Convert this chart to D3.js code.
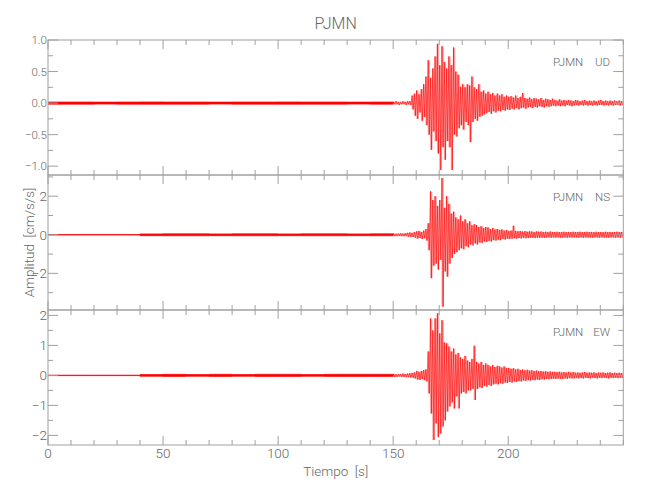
<!DOCTYPE html>
<html><head><meta charset="utf-8">
<script src="https://cdn.jsdelivr.net/npm/d3@7"></script>
<style>
body{margin:0;background:#fff}
text{font-family:Roboto,"Liberation Sans Narrow","DejaVu Sans Condensed",sans-serif;font-weight:300;fill:#666;white-space:pre}
</style>
</head><body>
<svg id="c" width="650" height="500"></svg>
<script>
// ---------------- data ----------------
const station = "PJMN";
const components = ["UD", "NS", "EW"];
const xTickValues = [0, 50, 100, 150, 200];
const xTickLabels = ["0", "50", "100", "150", "200"];
const xTitle = "Tiempo  [s]";
const yTitle = "Amplitud  [cm/s/s]";
const xDomain = [0, 250];
const yDomainUD = [-1.14, 1.0];
const yDomainNS = [-3.9, 3.1];
const yDomainEW = [-2.32, 2.18];
const yTicksUD = [-1, -0.5, 0, 0.5, 1];
const yTickLabelsUD = ["\u22121.0", "\u22120.5", "0.0", "0.5", "1.0"];
const yTicksNS = [-2, 0, 2];
const yTickLabelsNS = ["\u22122", "0", "2"];
const yTicksEW = [-2, -1, 0, 1, 2];
const yTickLabelsEW = ["\u22122", "\u22121", "0", "1", "2"];
const yMinorStep = [0.25, 1, 0.5];

// pre-event noise level (half-width) per 10 s segment, 0..150 s
const quietStarts = [0,10,20,30,40,50,60,70,80,90,100,110,120,130,140];
const quietUD = [0.017,0.017,0.016,0.017,0.018,0.017,0.017,0.016,0.017,0.017,0.018,0.017,0.017,0.016,0.017];
const quietNS = [0.012,0.012,0.012,0.012,0.045,0.05,0.05,0.045,0.05,0.05,0.045,0.05,0.05,0.045,0.05];
const quietEW = [0.008,0.008,0.008,0.008,0.03,0.035,0.03,0.035,0.03,0.035,0.035,0.03,0.035,0.035,0.035];

// per-second max / min of the record, 150..249 s
const udHi = [0.02,0.03,0.02,0.02,0.03,0.02,0.03,0.03,0.12,0.15,
  0.2,0.14,0.22,0.3,0.42,0.68,0.4,0.55,0.74,0.94,
  0.6,0.9,0.65,0.55,0.74,0.6,0.88,0.5,0.45,0.26,
  0.3,0.25,0.3,0.28,0.42,0.25,0.22,0.3,0.18,0.2,
  0.15,0.18,0.14,0.16,0.12,0.15,0.12,0.14,0.1,0.12,
  0.1,0.11,0.09,0.12,0.08,0.1,0.16,0.08,0.07,0.09,
  0.06,0.08,0.07,0.06,0.08,0.05,0.07,0.06,0.05,0.07,
  0.05,0.04,0.06,0.04,0.05,0.04,0.05,0.04,0.03,0.05,
  0.04,0.03,0.04,0.05,0.03,0.04,0.03,0.04,0.03,0.04,
  0.05,0.03,0.04,0.03,0.04,0.03,0.04,0.03,0.04,0.03];
const udLo = [-0.02,-0.02,-0.03,-0.02,-0.02,-0.03,-0.02,-0.03,-0.1,-0.2,
  -0.25,-0.15,-0.28,-0.22,-0.35,-0.5,-0.74,-0.45,-0.6,-0.8,
  -1.06,-0.7,-0.9,-0.6,-0.7,-1.06,-0.5,-0.53,-0.4,-0.35,
  -0.42,-0.3,-0.35,-0.62,-0.3,-0.25,-0.28,-0.22,-0.2,-0.18,
  -0.16,-0.14,-0.17,-0.13,-0.15,-0.12,-0.13,-0.11,-0.12,-0.1,
  -0.11,-0.09,-0.1,-0.08,-0.1,-0.08,-0.07,-0.09,-0.07,-0.06,
  -0.08,-0.06,-0.07,-0.05,-0.06,-0.07,-0.05,-0.06,-0.05,-0.04,
  -0.05,-0.04,-0.05,-0.04,-0.05,-0.03,-0.04,-0.05,-0.04,-0.03,
  -0.04,-0.03,-0.04,-0.03,-0.04,-0.03,-0.04,-0.03,-0.04,-0.03,
  -0.03,-0.04,-0.03,-0.04,-0.03,-0.04,-0.03,-0.03,-0.04,-0.03];
const nsHi = [0.07,0.06,0.07,0.08,0.07,0.08,0.1,0.12,0.1,0.15,
  0.18,0.2,0.15,0.22,0.3,0.6,2.25,1.8,2.0,1.5,
  1.8,2.95,1.4,2.0,1.6,1.1,1.2,0.9,0.8,1.0,
  0.7,0.8,0.6,0.7,0.5,0.55,0.5,0.4,0.45,0.35,
  0.4,0.38,0.3,0.35,0.28,0.3,0.25,0.28,0.22,0.25,
  0.2,0.22,0.47,0.2,0.18,0.2,0.17,0.19,0.16,0.18,
  0.17,0.15,0.18,0.16,0.17,0.15,0.16,0.15,0.17,0.15,
  0.15,0.16,0.14,0.15,0.16,0.14,0.15,0.14,0.16,0.14,
  0.15,0.16,0.14,0.15,0.16,0.14,0.15,0.14,0.16,0.14,
  0.15,0.14,0.16,0.14,0.15,0.14,0.15,0.16,0.14,0.15];
const nsLo = [-0.07,-0.07,-0.06,-0.07,-0.08,-0.07,-0.1,-0.12,-0.11,-0.15,
  -0.2,-0.17,-0.22,-0.18,-0.3,-0.8,-2.25,-1.6,-1.5,-1.8,
  -1.3,-3.73,-1.9,-2.17,-1.5,-1.2,-1.0,-0.9,-0.8,-0.7,
  -0.75,-0.6,-0.65,-0.5,-0.55,-0.45,-0.5,-0.4,-0.42,-0.35,
  -0.38,-0.32,-0.35,-0.28,-0.3,-0.26,-0.28,-0.22,-0.25,-0.2,
  -0.22,-0.2,-0.18,-0.2,-0.17,-0.19,-0.16,-0.18,-0.17,-0.16,
  -0.16,-0.17,-0.15,-0.16,-0.15,-0.16,-0.15,-0.14,-0.15,-0.14,
  -0.15,-0.14,-0.15,-0.16,-0.14,-0.15,-0.14,-0.15,-0.14,-0.14,
  -0.15,-0.14,-0.16,-0.14,-0.15,-0.14,-0.15,-0.14,-0.14,-0.15,
  -0.14,-0.15,-0.14,-0.15,-0.14,-0.14,-0.15,-0.14,-0.15,-0.14];
const ewHi = [0.05,0.04,0.05,0.05,0.06,0.05,0.06,0.07,0.08,0.1,
  0.15,0.12,0.15,0.18,0.2,0.8,1.9,1.5,1.9,2.07,
  1.4,1.84,1.1,1.07,0.96,0.8,0.9,0.7,0.75,0.6,
  0.55,0.65,0.5,0.45,0.55,0.99,0.45,0.4,0.45,0.35,
  0.4,0.35,0.3,0.35,0.28,0.32,0.3,0.26,0.3,0.25,
  0.25,0.22,0.24,0.2,0.22,0.18,0.2,0.17,0.19,0.16,
  0.17,0.15,0.16,0.14,0.15,0.13,0.14,0.12,0.13,0.12,
  0.12,0.11,0.12,0.1,0.11,0.1,0.12,0.1,0.11,0.09,
  0.1,0.09,0.1,0.11,0.09,0.1,0.09,0.1,0.08,0.1,
  0.09,0.1,0.08,0.09,0.1,0.08,0.09,0.08,0.09,0.08];
const ewLo = [-0.05,-0.05,-0.04,-0.05,-0.05,-0.06,-0.06,-0.07,-0.08,-0.1,
  -0.14,-0.15,-0.12,-0.16,-0.2,-0.6,-1.27,-2.15,-1.6,-2.05,
  -1.94,-1.7,-1.5,-1.2,-1.04,-0.9,-1.1,-0.7,-1.1,-0.6,
  -0.55,-0.6,-0.5,-0.5,-0.45,-0.82,-0.45,-0.4,-0.42,-0.35,
  -0.38,-0.32,-0.35,-0.3,-0.28,-0.3,-0.26,-0.28,-0.24,-0.25,
  -0.22,-0.24,-0.2,-0.22,-0.19,-0.2,-0.17,-0.18,-0.16,-0.17,
  -0.15,-0.16,-0.14,-0.15,-0.13,-0.14,-0.12,-0.13,-0.12,-0.11,
  -0.12,-0.1,-0.11,-0.12,-0.1,-0.11,-0.09,-0.1,-0.1,-0.09,
  -0.1,-0.09,-0.1,-0.08,-0.09,-0.1,-0.08,-0.09,-0.1,-0.08,
  -0.09,-0.08,-0.09,-0.1,-0.08,-0.09,-0.08,-0.09,-0.08,-0.09];
const activeStart = 150;

// ---------------- drawing ----------------
const svg = d3.select("#c");
svg.append("rect").attr("width",650).attr("height",500).attr("fill","#fff");

const L = 48, R = 623.3, T = 40, PH = 135;
const axisColor = "#a0a0a0", traceColor = "#ff0000";
const x = d3.scaleLinear().domain(xDomain).range([L, R]);
const xMinor = d3.range(0, 251, 10);

const panels = [
  {comp: components[0], dom: yDomainUD, ticks: yTicksUD, labels: yTickLabelsUD, minor: yMinorStep[0], quiet: quietUD, hi: udHi, lo: udLo, fs: 11.5},
  {comp: components[1], dom: yDomainNS, ticks: yTicksNS, labels: yTickLabelsNS, minor: yMinorStep[1], quiet: quietNS, hi: nsHi, lo: nsLo, fs: 13.5},
  {comp: components[2], dom: yDomainEW, ticks: yTicksEW, labels: yTickLabelsEW, minor: yMinorStep[2], quiet: quietEW, hi: ewHi, lo: ewLo, fs: 13.5}
];

const defs = svg.append("defs");

panels.forEach((p, k) => {
  const top = T + k * PH, bot = top + PH;
  const y = d3.scaleLinear().domain(p.dom).range([bot, top]);
  const g = svg.append("g");

  defs.append("clipPath").attr("id", "clip" + k)
    .append("rect").attr("x", L).attr("y", top).attr("width", R - L).attr("height", PH);

  const tg = g.append("g").attr("clip-path", "url(#clip" + k + ")");
  // pre-event noise band
  const qd = quietStarts.map((t, i) => ({t, n: p.quiet[i]}));
  qd.push({t: activeStart, n: p.quiet[p.quiet.length - 1]});
  tg.append("path")
    .attr("d", d3.area().x(d => x(d.t)).y0(d => y(-d.n)).y1(d => y(d.n)).curve(d3.curveStepAfter)(qd))
    .attr("fill", traceColor).attr("stroke", traceColor).attr("stroke-width", 0.7);
  // active record: per-second envelope (light) + alternating max/min trace
  p.hi.forEach((h, i) => {
    const t = activeStart + i;
    tg.append("line").attr("x1", x(t + 0.5)).attr("x2", x(t + 0.5))
      .attr("y1", y(h)).attr("y2", y(p.lo[i]))
      .attr("stroke", traceColor).attr("stroke-width", x(1) - x(0)).attr("stroke-opacity", 0.35);
  });
  const pts = [[activeStart, 0]];
  p.hi.forEach((h, i) => {
    const t = activeStart + i;
    pts.push([t + 0.2, h]);
    pts.push([t + 0.7, p.lo[i]]);
  });
  tg.append("path")
    .attr("d", d3.line().x(d => x(d[0])).y(d => y(d[1]))(pts))
    .attr("fill", "none").attr("stroke", traceColor).attr("stroke-width", 0.6);

  // frame
  g.append("rect").attr("x", L).attr("y", top).attr("width", R - L).attr("height", PH)
    .attr("fill", "none").attr("stroke", axisColor).attr("stroke-width", 1);

  // y ticks
  const minorTicks = d3.range(Math.ceil(p.dom[0] / p.minor) * p.minor, p.dom[1] + 1e-9, p.minor);
  minorTicks.forEach(v => {
    const isMajor = p.ticks.some(m => Math.abs(m - v) < 1e-9);
    const len = isMajor ? 10 : 5;
    g.append("line").attr("x1", L).attr("x2", L + len).attr("y1", y(v)).attr("y2", y(v)).attr("stroke", axisColor);
    g.append("line").attr("x1", R).attr("x2", R - len).attr("y1", y(v)).attr("y2", y(v)).attr("stroke", axisColor);
  });
  p.ticks.forEach((v, i) => {
    g.append("text").attr("x", L - 1).attr("y", y(v)).attr("dy", "0.36em")
      .attr("text-anchor", "end").style("font-size", p.fs + "px").text(p.labels[i]);
  });

  // x ticks (top and bottom of each panel)
  xMinor.forEach(v => {
    const isMajor = xTickValues.includes(v);
    const len = isMajor ? 9 : 5;
    g.append("line").attr("x1", x(v)).attr("x2", x(v)).attr("y1", top).attr("y2", top + len).attr("stroke", axisColor);
    g.append("line").attr("x1", x(v)).attr("x2", x(v)).attr("y1", bot).attr("y2", bot - len).attr("stroke", axisColor);
  });

  // station / component label
  g.append("text").attr("x", 583.3).attr("y", top + 26).attr("text-anchor", "end")
    .style("font-size", "11.5px").text(station);
  g.append("text").attr("x", 610).attr("y", top + 26).attr("text-anchor", "end")
    .style("font-size", "11.5px").text(p.comp);
});

// x tick labels
const bottom = T + 3 * PH;
xTickValues.forEach((v, i) => {
  svg.append("text").attr("x", x(v)).attr("y", bottom + 13).attr("text-anchor", "middle")
    .style("font-size", "13.5px").text(xTickLabels[i]);
});

// axis titles
svg.append("text").attr("x", (L + R) / 2).attr("y", 476).attr("text-anchor", "middle")
  .style("font-size", "13.5px").text(xTitle);
svg.append("text").attr("transform", `translate(34,${T + 1.5 * PH}) rotate(-90)`)
  .attr("text-anchor", "middle").style("font-size", "13.5px").text(yTitle);
svg.append("text").attr("x", (L + R) / 2).attr("y", 28.5).attr("text-anchor", "middle")
  .style("font-size", "16px").text(station);
</script>
</body></html>
